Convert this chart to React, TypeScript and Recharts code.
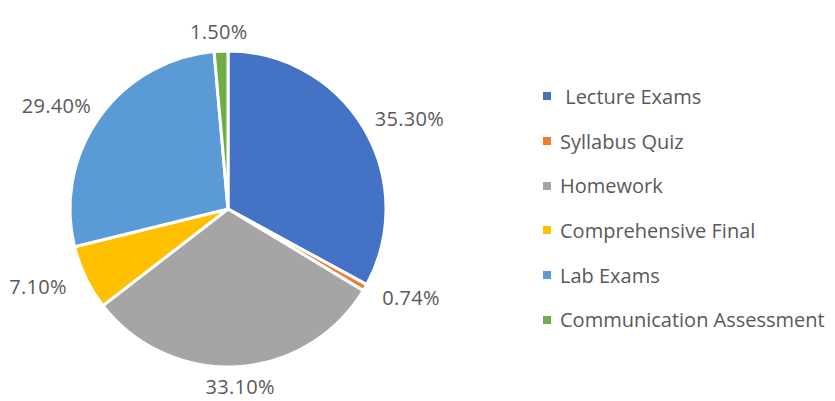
import { Pie, PieChart, Cell, Legend } from 'recharts'

const categories = [' Lecture Exams', 'Syllabus Quiz', 'Homework', 'Comprehensive Final', 'Lab Exams', 'Communication Assessment']
const shares = [35.3, 0.74, 33.1, 7.1, 29.4, 1.5]
const labels = ['35.30%', '0.74%', '33.10%', '7.10%', '29.40%', '1.50%']
const colors = ['#4472C4', '#ED7D31', '#A5A5A5', '#FFC000', '#5B9BD5', '#70AD47']

const data = categories.map((name, i) => ({ name, value: shares[i], label: labels[i] }))

const FONT = '"Open Sans", Lato, sans-serif'
const RADIAN = Math.PI / 180

// outside-end labels: anchor point just past the rim, box pushed outward
function renderLabel(props: any) {
  const { cx, cy, midAngle, outerRadius, index } = props
  const cos = Math.cos(-midAngle * RADIAN)
  const sin = Math.sin(-midAngle * RADIAN)
  const r = outerRadius + 16
  const x = cx + r * cos + 37 * cos
  const y = cy + r * sin + 4 * sin
  return (
    <text x={x} y={y} fill="#595959" fontSize={20} letterSpacing={0.3} fontFamily={FONT} textAnchor="middle" dominantBaseline="central">
      {labels[index]}
    </text>
  )
}

function LegendList() {
  return (
    <div style={{ fontFamily: FONT, fontSize: 20, color: '#595959' }}>
      {categories.map((c, i) => (
        <div key={c} style={{ display: 'flex', alignItems: 'center', height: 44.7, whiteSpace: 'nowrap' }}>
          <span style={{ width: 8, height: 8, background: colors[i], marginRight: 9, flexShrink: 0 }} />
          <span style={{ whiteSpace: 'pre' }}>{c}</span>
        </div>
      ))}
    </div>
  )
}

export default function App() {
  return (
    <PieChart width={827} height={393} margin={{ top: 0, right: 0, bottom: 0, left: 0 }}>
      <Pie
        data={data}
        dataKey="value"
        cx={220}
        cy={201}
        outerRadius={158}
        startAngle={90}
        endAngle={-270}
        stroke="#fff"
        strokeWidth={3}
        label={renderLabel}
        labelLine={false}
        isAnimationActive={false}
      >
        {data.map((d, i) => (
          <Cell key={d.name} fill={colors[i]} />
        ))}
      </Pie>
      <Legend
        layout="vertical"
        align="right"
        verticalAlign="top"
        content={() => <LegendList />}
        wrapperStyle={{ left: 535, top: 66, width: 290 }}
      />
    </PieChart>
  )
}
